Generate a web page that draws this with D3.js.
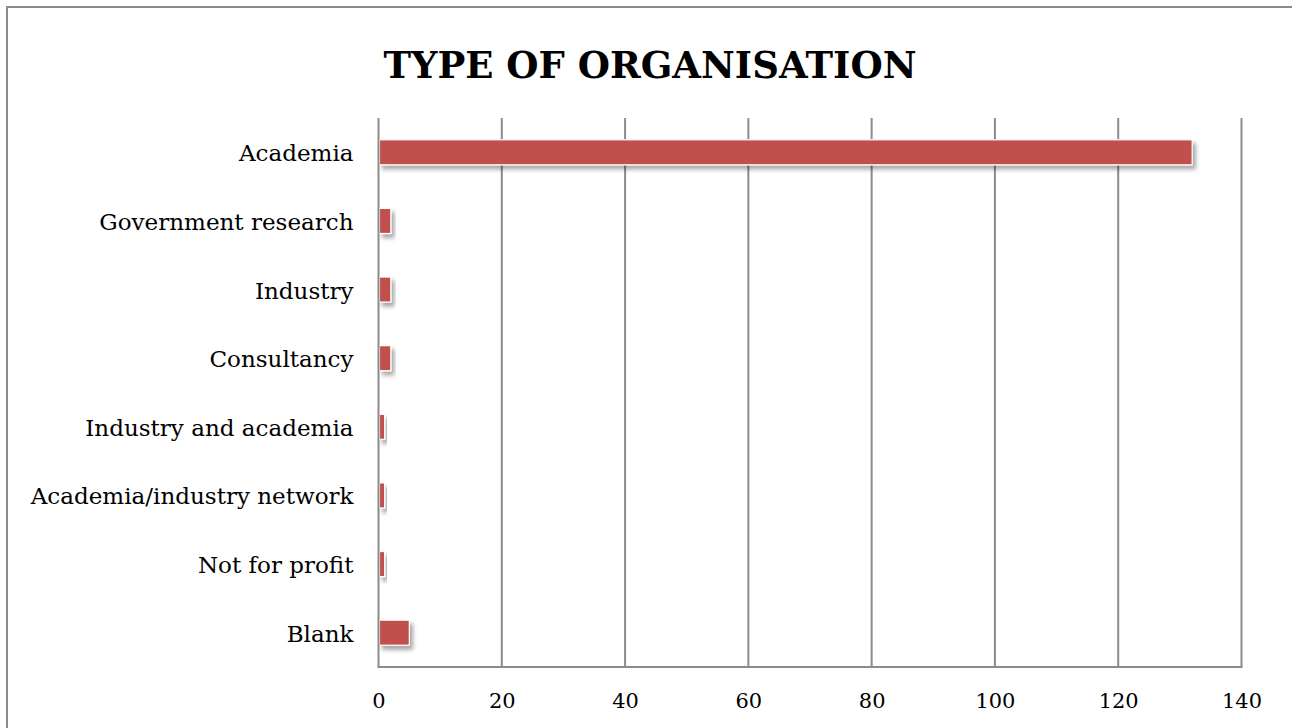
<!DOCTYPE html>
<html>
<head>
<meta charset="utf-8">
<script src="https://cdn.jsdelivr.net/npm/d3@7"></script>
<style>
  html, body { margin: 0; padding: 0; background: #fff; }
  svg { display: block; }
</style>
</head>
<body>
<script>
// Survey responses by type of organisation
const categories = [
  "Academia",
  "Government research",
  "Industry",
  "Consultancy",
  "Industry and academia",
  "Academia/industry network",
  "Not for profit",
  "Blank"
];
const counts = [132, 2, 2, 2, 1, 1, 1, 5];
const tickValues = [0, 20, 40, 60, 80, 100, 120, 140];
const chartTitle = "TYPE OF ORGANISATION";

const W = 1292, H = 728;
const margin = { left: 378.5, right: 1292 - 1241.5, top: 118, bottom: 728 - 667 };
const serif = "'DejaVu Serif', 'Liberation Serif', serif";

const svg = d3.select("body").append("svg")
  .attr("width", W).attr("height", H);

// scale a text's font size so that it spans the given width
function fitWidth(sel, targetWidth) {
  const node = sel.node();
  const base = parseFloat(sel.style("font-size"));
  const w = node.getComputedTextLength();
  const size = base * targetWidth / w;
  return size;
}

// soft drop shadow under each bar
const defs = svg.append("defs");
const f = defs.append("filter").attr("id", "barShadow")
  .attr("x", "-20%").attr("y", "-40%").attr("width", "160%").attr("height", "200%");
f.append("feDropShadow")
  .attr("dx", 3).attr("dy", 4).attr("stdDeviation", 2)
  .attr("flood-color", "#000").attr("flood-opacity", 0.35);

// outer chart frame
svg.append("rect")
  .attr("x", 7).attr("y", 7).attr("width", W + 20).attr("height", H + 20)
  .attr("fill", "#fff").attr("stroke", "#8c8c8c").attr("stroke-width", 2);

const x = d3.scaleLinear().domain([0, 140]).range([margin.left, W - margin.right]);
const y = d3.scaleBand().domain(categories)
  .range([margin.top, H - margin.bottom]).paddingInner(0.635).paddingOuter(0.3175);

// vertical gridlines
svg.append("g")
  .selectAll("line").data(tickValues.slice(1)).join("line")
  .attr("x1", d => x(d)).attr("x2", d => x(d))
  .attr("y1", margin.top).attr("y2", H - margin.bottom)
  .attr("stroke", "#8c8c8c").attr("stroke-width", 2);

// bars
svg.append("g")
  .selectAll("rect").data(categories).join("rect")
  .attr("x", x(0) + 1)
  .attr("y", d => y(d))
  .attr("width", (d, i) => x(counts[i]) - x(0) - 1)
  .attr("height", y.bandwidth())
  .attr("fill", "#c0504d")
  .attr("stroke", "#fff").attr("stroke-width", 1.2)
  .attr("filter", "url(#barShadow)");

// category axis line
svg.append("line")
  .attr("x1", x(0)).attr("x2", x(0))
  .attr("y1", margin.top).attr("y2", H - margin.bottom)
  .attr("stroke", "#8c8c8c").attr("stroke-width", 2);

// value axis line
svg.append("line")
  .attr("x1", x(0) - 1).attr("x2", x(140) + 1)
  .attr("y1", H - margin.bottom).attr("y2", H - margin.bottom)
  .attr("stroke", "#8c8c8c").attr("stroke-width", 2);

// value tick labels
const xAxis = d3.axisBottom(x).tickValues(tickValues).tickSize(0).tickPadding(0);
const gx = svg.append("g")
  .attr("transform", `translate(0, ${H - margin.bottom})`)
  .call(xAxis);
gx.select(".domain").remove();
gx.selectAll("text")
  .attr("dy", null).attr("y", 41)
  .style("font-family", serif).style("font-size", "22px").attr("fill", "#000");
{
  const last = gx.selectAll("text").filter(d => d === 140);
  const s = fitWidth(last, 40);
  gx.selectAll("text").style("font-size", s + "px");
}

// category labels
const yAxis = d3.axisLeft(y).tickSize(0).tickPadding(0);
const gy = svg.append("g")
  .attr("transform", `translate(${margin.left - 25}, 0)`)
  .call(yAxis);
gy.select(".domain").remove();
gy.selectAll("text")
  .attr("dy", null).attr("y", 9)
  .style("font-family", serif).style("font-size", "22px").attr("fill", "#000");
{
  const widest = gy.selectAll("text").filter(d => d === "Academia/industry network");
  const s = fitWidth(widest, 323);
  gy.selectAll("text").style("font-size", s + "px");
}

// title
const title = svg.append("text")
  .attr("x", 650).attr("y", 78)
  .attr("text-anchor", "middle")
  .style("font-family", serif).style("font-weight", "bold").style("font-size", "40px")
  .text(chartTitle);
title.style("font-size", fitWidth(title, 533) + "px");
</script>
</body>
</html>
